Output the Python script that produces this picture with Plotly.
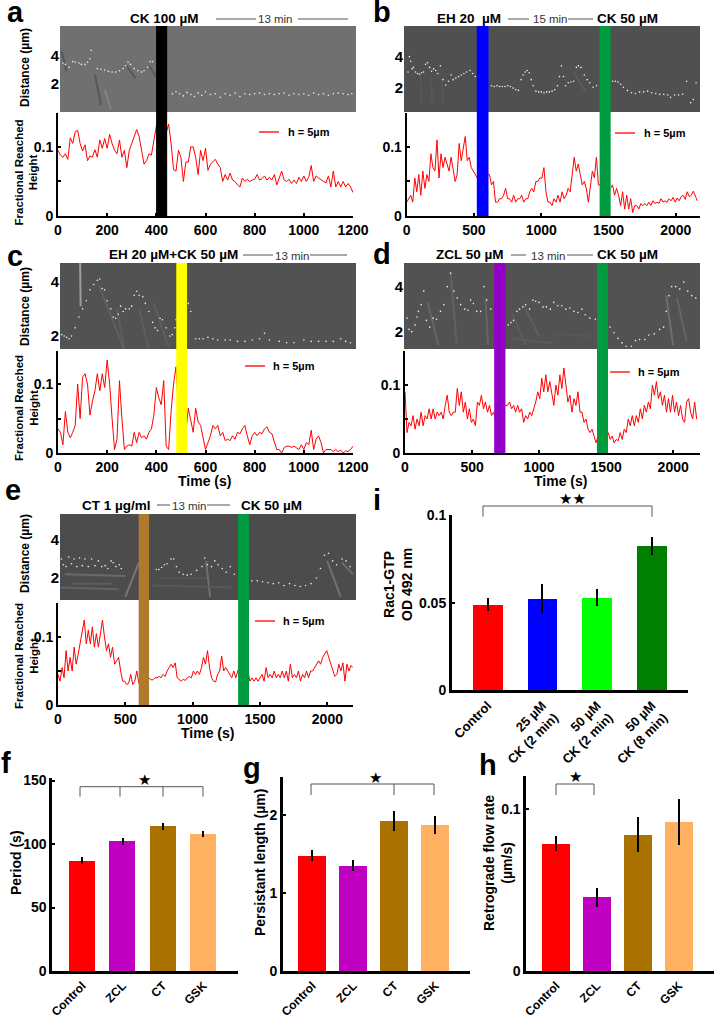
import plotly.graph_objects as go

W, H = 714, 1019
FONT = "Liberation Sans"
RED = "#ff0000"

# ---------- Fractional reached height series ----------
step_a = 10
height_a = [.095,.088,.085,.09,.082,.113,.105,.122,.124,.105,.094,.103,.08,.087,.085,.096,.085,.11,.098,.112,.098,.118,.105,.095,.09,.11,.085,.095,.07,.095,.105,.115,.125,.115,.095,.075,.08,.09,.088,.11,.13,.14,.13,.12,.12,.133,.105,.067,.065,.095,.085,.05,.078,.078,.1,.1,.085,.06,.095,.08,.098,.066,.075,.078,.082,.075,.07,.05,.06,.052,.062,.052,.05,.045,.042,.055,.05,.053,.05,.052,.053,.06,.052,.054,.058,.052,.056,.052,.06,.045,.055,.065,.052,.05,.053,.047,.052,.047,.056,.05,.058,.05,.056,.073,.05,.058,.055,.052,.05,.048,.058,.042,.065,.042,.05,.042,.05,.042,.047,.042,.034]
step_b = 15
height_b = [.02,.025,.03,.02,.055,.035,.06,.03,.065,.04,.06,.05,.09,.07,.065,.11,.055,.09,.07,.085,.075,.065,.085,.07,.05,.06,.105,.08,.095,.115,.08,.085,.07,.065,.06,.055,.05,.05,.05,.05,.06,.06,.045,.05,.02,.02,.025,.025,.03,.04,.025,.025,.02,.03,.02,.025,.025,.03,.02,.025,.025,.035,.04,.035,.05,.05,.055,.055,.07,.035,.02,.02,.015,.025,.02,.03,.02,.035,.025,.03,.04,.035,.06,.085,.065,.075,.06,.045,.05,.04,.02,.045,.065,.055,.085,.045,.045,.045,.045,.045,.04,.04,.045,.03,.04,.03,.015,.035,.01,.03,.01,.025,.005,.015,.015,.01,.018,.015,.018,.015,.02,.015,.022,.018,.02,.018,.025,.02,.022,.02,.025,.022,.027,.02,.026,.022,.028,.03,.024,.035,.028,.03,.036,.028,.022]
step_c = 10
height_c = [.035,.03,.012,.06,.03,.022,.03,.04,.1,.05,.11,.115,.1,.055,.075,.09,.115,.09,.115,.095,.135,.1,.05,.005,.02,.105,.05,.005,.01,.012,.01,.03,.015,.03,.022,.025,.02,.03,.035,.055,.095,.08,.07,.105,.01,.005,.06,.1,.125,.06,.05,.04,.03,.065,.045,.03,.065,.045,.04,.02,.005,.015,.025,.04,.035,.04,.025,.03,.018,.02,.018,.025,.02,.03,.028,.035,.04,.025,.012,.025,.03,.025,.03,.028,.035,.038,.03,.028,.015,.005,.005,.0,.008,.01,.01,.008,.01,.008,.005,.012,.005,.015,.012,.033,.005,.02,.025,.015,0,.005,.005,.005,.002,.005,.002,.004,0,.003,.002,.005,.01]
step_d = 15
height_d = [.09,.03,.045,.04,.055,.035,.05,.04,.06,.04,.055,.05,.065,.05,.065,.05,.06,.055,.06,.05,.07,.085,.06,.055,.06,.06,.095,.07,.09,.06,.075,.05,.065,.045,.05,.04,.075,.07,.085,.065,.075,.06,.07,.055,.06,.05,.045,.07,.07,.07,.07,.07,.075,.065,.07,.06,.07,.06,.065,.045,.055,.05,.06,.055,.065,.075,.09,.08,.11,.09,.115,.09,.105,.085,.07,.1,.085,.115,.095,.125,.1,.075,.085,.06,.08,.07,.09,.06,.06,.045,.05,.035,.03,.035,.025,.015,.025,.025,.025,.025,.025,.03,.02,.025,.015,.02,.018,.03,.02,.035,.03,.05,.04,.055,.04,.055,.045,.065,.05,.07,.06,.075,.065,.1,.085,.105,.08,.09,.07,.085,.06,.08,.06,.085,.06,.075,.055,.07,.05,.045,.075,.08,.06,.05,.075,.05]
step_e = 15
height_e = [.045,.035,.055,.04,.08,.05,.07,.05,.085,.06,.075,.09,.105,.125,.09,.11,.09,.115,.085,.105,.085,.105,.125,.1,.08,.09,.07,.085,.06,.065,.07,.05,.035,.035,.03,.032,.045,.03,.035,.05,.032,.04,.04,.04,.04,.04,.037,.037,.04,.04,.042,.04,.045,.042,.05,.055,.06,.055,.062,.04,.037,.035,.038,.036,.04,.042,.04,.05,.045,.05,.045,.055,.07,.06,.08,.055,.04,.035,.034,.045,.05,.072,.05,.055,.05,.045,.04,.05,.04,.05,.06,.05,.05,.05,.05,.035,.04,.035,.04,.035,.04,.045,.035,.055,.04,.045,.04,.05,.04,.045,.04,.05,.04,.05,.035,.06,.04,.045,.04,.05,.035,.045,.04,.05,.04,.05,.05,.055,.06,.065,.06,.07,.075,.08,.07,.06,.05,.042,.045,.06,.05,.062,.035,.06,.05,.058,.055]

# ---------- Tracked edge points on the kymographs (time s, distance um) ----------
dots_t_a = [20,30,45,60,70,85,95,110,120,130,135,160,175,190,205,220,235,250,265,275,285,295,310,325,340,350,365,375,385,465,480,495,510,525,540,555,570,585,600,620,640,660,680,700,720,740,760,780,800,820,840,860,880,900,920,940,960,980,1000,1020,1040,1060,1080,1100,1120,1140,1160,1180,1195]
dots_d_a = [3.5,3.4,3.2,3.6,3.55,3.5,3.4,3.4,3.55,3.8,4.4,3.1,3.05,3.0,2.9,2.85,2.85,2.95,3.1,3.3,3.55,3.4,3.1,2.95,2.85,2.95,3.2,3.6,3.6,1.3,1.45,1.3,1.15,1.4,1.25,1.1,1.35,1.2,1.45,1.25,1.3,1.05,1.3,1.2,1.35,1.1,1.3,1.25,1.3,1.35,1.25,1.3,1.25,1.3,1.35,1.2,1.3,1.25,1.3,1.2,1.35,1.25,1.3,1.2,1.3,1.35,1.3,1.25,1.3]
dots_t_b = [10,20,30,40,50,65,80,95,110,125,140,155,170,185,200,215,230,250,270,290,310,330,345,365,385,405,425,445,470,490,510,630,650,670,690,710,730,750,770,790,810,830,850,865,880,895,910,925,940,960,980,1000,1020,1040,1060,1080,1100,1120,1135,1150,1165,1180,1200,1220,1240,1260,1275,1295,1320,1340,1360,1385,1410,1530,1550,1570,1590,1610,1640,1670,1700,1730,1760,1790,1820,1850,1880,1910,1940,1960,1990,2020,2050,2080,2110,2130,2150]
dots_d_b = [3.0,4.0,3.7,3.2,3.3,3.0,2.9,2.85,2.95,3.0,3.5,3.6,3.3,3.05,3.2,3.1,2.9,3.4,2.5,2.15,2.4,2.8,2.5,2.6,2.7,2.8,2.9,3.0,3.1,2.9,2.7,2.1,2.05,2.1,2.05,2.05,2.05,2.1,2.05,1.95,1.85,1.8,2.5,2.8,3.0,3.1,2.95,2.5,2.1,1.75,1.7,1.7,1.65,1.7,1.7,1.75,1.85,2.1,2.7,3.4,2.7,2.1,2.3,2.35,2.4,3.3,3.4,3.3,2.8,2.5,2.3,2.0,2.1,2.4,2.4,2.35,2.2,2.0,1.8,1.65,1.6,1.7,1.7,1.75,1.65,1.6,1.55,1.55,1.5,1.35,1.5,1.5,1.55,2.4,1.0,1.2,2.3]
dots_t_c = [5,15,25,35,45,55,70,85,100,115,130,145,160,170,180,190,200,215,225,235,245,255,265,275,290,300,310,320,330,345,355,370,385,395,405,415,425,440,455,465,475,480,530,540,560,575,590,610,630,650,680,700,730,760,790,820,840,860,900,930,960,1000,1030,1060,1090,1120,1150,1170,1190]
dots_d_c = [2.2,2.05,2.0,1.95,1.9,2.0,2.3,2.7,3.0,3.3,3.7,3.9,4.05,4.1,3.75,3.7,3.3,3.0,2.7,2.65,2.8,3.1,2.9,3.0,3.0,3.1,3.5,3.65,3.5,3.45,3.2,2.9,2.5,2.3,2.2,2.65,2.6,2.3,2.0,2.05,2.3,2.6,3.2,2.9,1.9,1.9,1.9,1.95,1.9,1.85,1.85,1.85,1.8,1.8,1.85,1.9,2.1,1.85,1.8,1.75,1.75,1.85,1.8,1.8,1.8,1.8,1.9,1.8,1.75]
dots_t_d = [15,30,50,75,90,100,120,140,160,185,210,235,265,290,315,340,365,390,415,445,470,490,510,535,565,590,610,640,770,790,810,835,855,880,900,930,955,975,1000,1030,1055,1085,1110,1140,1170,1200,1230,1260,1290,1320,1345,1380,1420,1530,1560,1590,1620,1650,1690,1720,1750,1790,1820,1860,1900,1930,1950,1970,1990,2020,2050,2080,2110,2140,2170]
dots_d_d = [2.6,2.1,2.0,2.3,2.65,2.9,3.2,3.8,2.5,2.2,2.6,2.55,2.9,3.2,4.0,4.6,3.8,3.5,3.2,3.0,2.95,3.4,3.25,2.9,2.9,4.0,3.4,3.0,2.3,2.4,2.5,2.9,3.0,3.1,3.2,3.0,3.4,3.35,3.3,3.1,3.1,3.0,3.3,3.15,3.15,3.0,3.05,2.9,2.85,3.0,2.75,2.6,2.55,2.2,1.95,1.7,1.5,1.35,1.35,1.6,1.65,1.65,1.85,1.9,2.1,2.2,2.9,3.6,4.0,4.0,3.9,4.2,3.8,3.6,3.5]
dots_t_e = [10,25,40,60,80,100,120,140,160,180,200,225,250,275,300,325,350,370,395,410,430,455,470,730,750,770,790,810,840,860,880,900,930,960,990,1030,1070,1090,1110,1140,1165,1190,1220,1250,1280,1310,1440,1480,1520,1560,1600,1640,1680,1720,1760,1800,1840,1880,1920,1950,1980,2010,2040,2070,2110,2140,2170]
dots_d_e = [2.6,3.0,2.7,2.6,3.1,2.75,3.0,2.6,3.05,2.65,3.0,2.6,3.0,2.65,2.9,2.6,2.65,2.5,2.9,2.8,2.6,2.7,2.5,2.45,2.45,2.55,2.7,2.75,3.0,3.0,2.6,2.3,2.2,2.15,2.2,2.4,2.6,3.05,2.7,2.6,2.9,2.7,2.5,2.3,2.6,2.2,1.85,1.85,1.8,1.75,1.7,1.75,1.6,1.7,1.6,1.55,1.6,1.7,2.0,2.5,3.2,3.3,2.9,2.7,3.0,2.9,2.6]

# ---------- Faint streaks on the kymographs (t0, d0, t1, d1, shade) ----------
streaks_a = [(15,4.3,35,2.9,"#4c4c4c"),(150,2.7,175,0.5,"#4f4f4f"),(190,1.6,215,0.2,"#8c8c8c"),(280,3.3,315,2.4,"#505050"),(370,3.3,400,2.5,"#505050")]
streaks_b = [(100,2.7,110,1.0,"#5a5a5a"),(180,2.7,190,1.0,"#5a5a5a"),(260,2.6,270,1.0,"#5a5a5a"),(1240,3.0,1330,1.7,"#626262")]
streaks_c = [(165,3.9,270,1.5,"#666666"),(240,3.0,270,1.5,"#626262"),(330,3.0,370,1.5,"#646464"),(390,3.2,450,1.6,"#646464"),(90,4.7,92,3.1,"#bdbdbd")]
streaks_d = [(170,3.3,250,1.4,"#6e6e6e"),(340,4.6,385,1.5,"#6a6a6a"),(600,3.5,620,1.4,"#6e6e6e"),(800,2.8,900,1.4,"#626262"),(900,3.0,1000,1.8,"#626262"),(800,1.7,1100,1.5,"#606060"),(1950,3.6,2000,1.4,"#7a7a7a"),(2030,3.5,2100,1.6,"#6e6e6e"),(1100,1.9,1400,1.8,"#5a5a5a")]
streaks_e = [(50,2.2,500,2.1,"#787878"),(20,1.5,450,1.4,"#6e6e6e"),(100,1.7,400,1.7,"#646464"),(500,1.0,600,2.8,"#8a8a8a"),(1100,2.9,1130,1.0,"#808080"),(700,1.6,1300,1.5,"#5c5c5c"),(750,2.0,1100,2.0,"#585858"),(2000,2.9,2100,1.0,"#808080"),(2110,2.8,2190,2.2,"#7a7a7a")]

# ---------- Treatment stripes ----------
stripes_a = [(399,444,"#000000")]
stripes_b = [(521,608,"#0000ff"),(1434,1516,"#009b3e")]
stripes_c = [(481,525,"#ffff00")]
stripes_d = [(665,749,"#9400c8"),(1432,1514,"#009b3e")]
stripes_e = [(599,676,"#b07a2c"),(1337,1418,"#009b3e")]

# ---------- Bar panels ----------
cats_fgh = ["Control","ZCL","CT","GSK"]
colors_fgh = ["#ff0000","#c000c0","#a97200","#ffb060"]
period = [86.8,102,114,108]
period_err = [2.8,2.4,2.8,2.5]
persist = [1.48,1.35,1.92,1.87]
persist_err = [.073,.068,.132,.113]
retro = [.0786,.0455,.084,.0918]
retro_err = [.0048,.0059,.0108,.0142]
cats_i = ["Control","25 µM<br>CK (2 min)","50 µM<br>CK (2 min)","50 µM<br>CK (8 min)"]
colors_i = ["#ff0000","#0000ff","#00ff00","#007f00"]
rac = [.0489,.0524,.053,.0826]
rac_err = [.0038,.0082,.005,.0052]

fig = go.Figure()
layout = {}
shapes = []
annots = []
counter = [0]

def px(x):
    return x / W
def py(y):
    return 1 - y / H

def text(x, y, s, size=13, bold=True, color="#000000", angle=0, anchor="center", family=FONT):
    annots.append(dict(x=px(x), y=py(y), xref="paper", yref="paper", text=s, showarrow=False,
                       xanchor=anchor, yanchor="middle", textangle=angle,
                       font=dict(family=family, size=size, color=color, weight=700 if bold else 400)))

def seg(x0, y0, x1, y1, color="#555555", width=1):
    shapes.append(dict(type="line", xref="paper", yref="paper", x0=px(x0), x1=px(x1), y0=py(y0), y1=py(y1),
                       line=dict(color=color, width=width)))

def axes(l, r, t, b):
    counter[0] += 1
    n = counter[0]
    sfx = "" if n == 1 else str(n)
    layout[f"xaxis{sfx}"] = dict(domain=[px(l), px(r)], anchor=f"y{sfx}", automargin=False)
    layout[f"yaxis{sfx}"] = dict(domain=[py(b), py(t)], anchor=f"x{sfx}", automargin=False)
    return sfx

def panel(kbox, lbox, x0px, xscale, xmax, ylim, xticks, bg, k_range, k_ticks,
          step, values, dots_t, dots_d, streaks, stripes):
    # kymograph
    kl, kr, kt, kb = kbox
    k = axes(kl, kr, kt, kb)
    layout[f"xaxis{k}"].update(range=[(kl-x0px)/xscale, (kr-x0px)/xscale], visible=False, fixedrange=True)
    layout[f"yaxis{k}"].update(range=k_range, tickvals=k_ticks, ticktext=[str(v) for v in k_ticks],
                               showgrid=False, zeroline=False, showline=False, ticks="",
                               tickfont=dict(family=FONT, size=15, weight=700, color="#000"))
    for t0, d0, t1, d1, c in streaks:
        fig.add_trace(go.Scatter(x=[t0,t1], y=[d0,d1], mode="lines", line=dict(color=c, width=2),
                                 opacity=.7, xaxis=f"x{k}", yaxis=f"y{k}", hoverinfo="skip"))
    fig.add_trace(go.Scatter(x=dots_t, y=dots_d, mode="markers", marker=dict(color="#eeeeee", size=1.6),
                             xaxis=f"x{k}", yaxis=f"y{k}"))
    shapes.append(dict(type="rect", xref=f"x{k} domain", yref=f"y{k} domain", x0=0, x1=1, y0=0, y1=1,
                       fillcolor=bg, line=dict(width=0), layer="below"))
    # trace
    ll, lr, lt, lb = lbox
    s = axes(ll, lr, lt, lb)
    layout[f"xaxis{s}"].update(range=[0, xmax], tickvals=xticks, ticks="inside", ticklen=3, tickwidth=2,
                               tickcolor="#000", showline=True, linecolor="#000", linewidth=2, showgrid=False,
                               zeroline=False, tickfont=dict(family=FONT, size=14, weight=700, color="#000"))
    layout[f"yaxis{s}"].update(range=[0, ylim], tickvals=[0,.05,.1,.15], ticktext=["0","","0.1",""],
                               ticks="inside", ticklen=3, tickwidth=2, tickcolor="#000", showline=True,
                               linecolor="#000", linewidth=2, showgrid=False, zeroline=False,
                               tickfont=dict(family=FONT, size=14, weight=700, color="#000"))
    fig.add_trace(go.Scatter(x=[i*step for i in range(len(values))], y=values, mode="lines",
                             line=dict(color=RED, width=1), xaxis=f"x{s}", yaxis=f"y{s}", name="h = 5µm"))
    for a, b_, c in stripes:
        shapes.append(dict(type="rect", xref=f"x{s}", yref="paper", x0=a, x1=b_, y0=py(lb), y1=py(kt),
                           fillcolor=c, line=dict(width=0), layer="above"))

def bars(l, r, t, b, c0, spacing, barw, ymax, tick_vals, labels, cats, colors, vals, errs, size=12):
    s = axes(l, r, t, b)
    fig.add_trace(go.Bar(x=list(range(len(cats))), y=vals, marker=dict(color=colors, line=dict(width=0)),
                         width=barw/spacing,
                         error_y=dict(type="data", array=errs, color="#000", thickness=2, width=0),
                         xaxis=f"x{s}", yaxis=f"y{s}"))
    layout[f"xaxis{s}"].update(range=[(l-c0)/spacing, (r-c0)/spacing], tickvals=list(range(len(cats))), ticktext=cats,
                               tickangle=-45, ticks="", showline=True, linecolor="#000", linewidth=3, showgrid=False,
                               zeroline=False, tickfont=dict(family=FONT, size=size, weight=700, color="#000"))
    layout[f"yaxis{s}"].update(range=[0, ymax], tickvals=tick_vals, ticktext=labels, ticks="inside", ticklen=3,
                               tickwidth=2, tickcolor="#000", showline=True, linecolor="#000", linewidth=3,
                               showgrid=False, zeroline=False,
                               tickfont=dict(family=FONT, size=14, weight=700, color="#000"))

BG_A, BG_B, BG_C, BG_D, BG_E = "#707070", "#505050", "#525252", "#525252", "#4c4c4c"

panel((60,356,26,112), (58,353,113,216), 58, 295/1200, 1200, .149, [0,200,400,600,800,1000,1200], BG_A,
      [0, 6.14], [2,4], step_a, height_a, dots_t_a, dots_d_a, streaks_a, stripes_a)
panel((404,700,26,112), (406.7,700,113,216), 406.7, 67.3/500, 2180, .149, [0,500,1000,1500,2000], BG_B,
      [.39, 6.0], [2,4], step_b, height_b, dots_t_b, dots_d_b, streaks_b, stripes_b)
panel((60,356,263,349), (58,353,351,453), 58, 295/1200, 1200, .148, [0,200,400,600,800,1000,1200], BG_C,
      [1.52, 4.69], [2,4], step_c, height_c, dots_t_c, dots_d_c, streaks_c, stripes_c)
panel((404,700,263,349), (405,700,351,453), 405, 67/500, 2200, .15, [0,500,1000,1500,2000], BG_D,
      [1.23, 5.05], [2,4], step_d, height_d, dots_t_d, dots_d_d, streaks_d, stripes_d)
panel((60,356,514,600), (58,353,603,705), 58, 67.3/500, 2190, .15, [0,500,1000,1500,2000], BG_E,
      [.84, 5.37], [2,4], step_e, height_e, dots_t_e, dots_d_e, streaks_e, stripes_e)

bars(52.4,237.7,778,971, 82.4,40.3,26, 152, [0,50,100,150], ["0","50","100","150"], cats_fgh, colors_fgh, period, period_err)
bars(283.2,470,776.7,971, 312.4,41,27.8, 2.49, [0,1,2], ["0","1","2"], cats_fgh, colors_fgh, persist, persist_err)
bars(526.4,714,776,971, 556,41,28, .1204, [0,.1], ["0","0.1"], cats_fgh, colors_fgh, retro, retro_err)
bars(452,688,515,690, 487.7,54.7,29.7, .1003, [0,.05,.1], ["0","0.05","0.1"], cats_i, colors_i, rac, rac_err, size=13)

# panel letters
for x, y, s in [(15,12,"a"),(382,12,"b"),(15,256,"c"),(382,254,"d"),(13,490,"e"),(377,500,"i"),(6,763,"f"),(252,768,"g"),(488,765,"h")]:
    text(x, y, s, size=29)

# headers
for x, y, s in [(164.5,19,"CK 100 µM"),(469,18,"EH 20  µM"),(627,18,"CK 50 µM"),(173,255,"EH 20 µM+CK 50 µM"),
                (470,255,"ZCL 50 µM"),(627,255,"CK 50 µM"),(116,505,"CT 1 µg/ml"),(271,505,"CK 50 µM")]:
    text(x, y, s, size=13.5)
for x, y, s in [(275,19,"13 min"),(550,19,"15 min"),(292,256,"13 min"),(548,256,"13 min"),(189,506,"13 min")]:
    text(x, y, s, size=11.5, bold=False, color="#333333")
for x0, x1, y in [(216,256,19),(298,348,19),(508,529,19),(568,593,19),(243,273,255),(310,347,255),(511,526,255),(567,593,255),(157,170,505),(207,230,505)]:
    seg(x0, y, x1, y)

# y titles
for y in (68,307,554):
    text(25, y, "Distance (µm)", size=12, angle=-90)
for y in (172.5,408,656):
    text(26, y, "Fractional Reached<br>Height", size=11.5, angle=-90)
for x, y in [(205,481),(560,481),(207,733)]:
    text(x, y, "Time (s)", size=14)

# trace key
for x0, x1, y, tx in [(259,279,132,286),(615,635,133,642),(245,265,366,271),(610,630,372,636),(255,275,621,281)]:
    seg(x0, y, x1, y, color=RED, width=1.3)
    text(tx, y, "h = 5µm", size=11, anchor="left")

# bar titles
text(16, 863, "Period (s)", size=14, angle=-90)
text(260, 863, "Persistant length (µm)", size=14, angle=-90)
text(498, 863, "Retrograde flow rate<br>(µm/s)", size=14, angle=-90)
text(398, 585, "Rac1-GTP<br>OD 492 nm", size=14, angle=-90)

# significance brackets
for xs, top, drop, drops in [((80,203),786.7,796.7,(120,163)), ((311,434),784,795,(394,)), ((556,594),784,795,()), ((483,652),506,516.7,())]:
    seg(xs[0], top, xs[1], top)
    seg(xs[0], top, xs[0], drop)
    seg(xs[1], top, xs[1], drop)
    for d in drops:
        seg(d, top, d, drop)
for x, y, s in [(144,780,"★"),(375,778,"★"),(575,777,"★"),(572,499,"★★")]:
    text(x, y, s, size=15, bold=False, family="DejaVu Sans")

fig.update_layout(width=W, height=H, margin=dict(l=0, r=0, t=0, b=0, autoexpand=False), paper_bgcolor="#ffffff",
                  plot_bgcolor="rgba(0,0,0,0)", showlegend=False, shapes=shapes, annotations=annots, bargap=0, **layout)
fig.write_html("out.html", config={"displayModeBar": False}, post_script="document.body.style.margin='0';")
